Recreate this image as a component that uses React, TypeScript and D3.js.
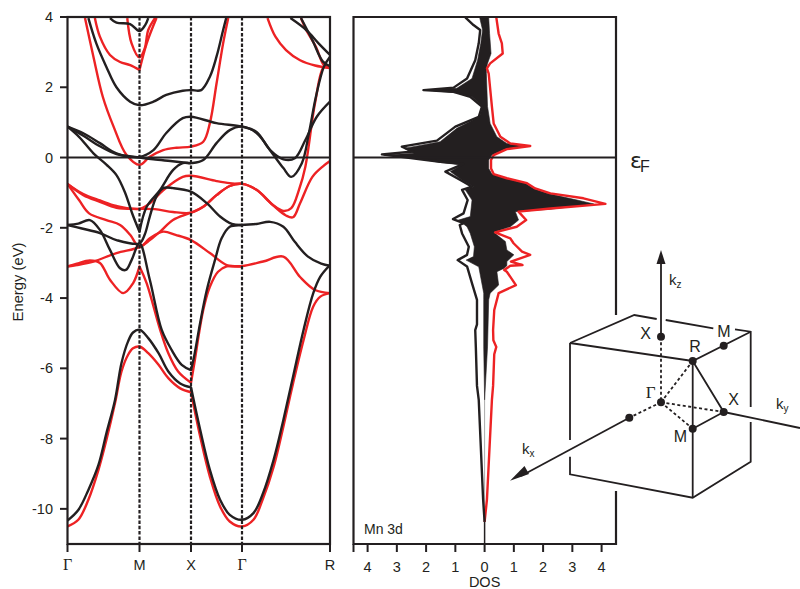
import React from 'react';
import * as d3 from 'd3';

type P = [number, number];
const INK = '#231f20';
const RED = '#ed2224';

// ---- band structure: [k, E], with k: Γ=0, M=1, X=2, Γ=3, R=4 (a repeated point is a cusp)
const kTicks = [0, 1, 2, 3, 4];
const kLabels = ['Γ', 'M', 'X', 'Γ', 'R'];
const energyTicks = [4, 2, 0, -2, -4, -6, -8, -10];

const redLow: P[] = [[0,-10.5],[.15,-10.31],[.29,-9.74],[.43,-8.89],[.54,-8.04],[.66,-6.99],[.75,-6.09],[.84,-5.62],[.91,-5.43],[1,-5.38],[1.17,-5.57],[1.37,-5.9],[1.56,-6.28],[1.79,-6.57],[2,-6.68],[2,-6.68],[2.18,-7.94],[2.37,-9.08],[2.57,-9.93],[2.76,-10.36],[3,-10.5],[3.13,-10.31],[3.24,-9.7],[3.36,-8.8],[3.47,-7.66],[3.58,-6.43],[3.7,-5.19],[3.81,-4.24],[3.89,-3.96],[4,-3.86]];
const redA: P[] = [[0,-3.1],[.13,-3.02],[.31,-2.93],[.45,-3.0],[.59,-3.48],[.775,-3.86],[.91,-3.58],[1,-3.1],[1,-3.1],[1.14,-3.58],[1.4,-4.9],[1.56,-5.57],[1.75,-6.09],[2,-6.41],[2,-6.41],[2.06,-5.9],[2.24,-4.34],[2.37,-3.68],[2.53,-3.25],[2.7,-3.1],[3,-3.09],[3.24,-2.96],[3.47,-2.82],[3.66,-3.4],[3.83,-3.77],[4,-3.86]];
const redB: P[] = [[0,-3.1],[.13,-3.06],[.36,-2.96],[.68,-2.72],[1,-2.55],[1.2,-2.35],[1.4,-2.11],[1.65,-1.78],[2,-1.57],[2.24,-1.4],[2.5,-1.07],[2.76,-.81],[3,-.75],[3.165,-.92],[3.35,-1.35],[3.5,-1.65],[3.58,-1.7],[3.66,-1.3],[3.8,-.55],[3.92,-.25],[4,-.1]];
const redC: P[] = [[0,-.75],[.16,-1.21],[.3,-1.59],[.54,-1.78],[.73,-1.92],[.87,-2.2],[1,-2.55],[1.2,-2.3],[1.46,-2.11],[1.7,-2.2],[2,-2.35],[2.37,-2.72],[2.7,-3.06],[3,-3.1]];
const redD: P[] = [[0,-.75],[.22,-1.07],[.45,-1.26],[.68,-1.43],[1,-1.46],[1.3,-1.47],[1.65,-1.55],[2,-1.57],[2.24,-1.4],[2.5,-1.07],[2.76,-.81],[3,-.75],[3.165,-.92],[3.35,-1.35],[3.47,-1.52],[3.56,-1.44],[3.65,-.9],[3.72,-.26],[3.83,1.55],[3.93,2.58],[4,2.6]];
const redE: P[] = [[0,-.75],[.22,-1.04],[.45,-1.22],[.68,-1.38],[1,-1.46],[1.2,-1.3],[1.46,-.93],[1.84,-.55],[2,-.52],[2.5,-.67],[2.76,-.73],[3,-.75]];
const redF: P[] = [[.243,3.97],[.36,2.87],[.49,1.73],[.64,.88],[.82,.07],[1,-.21],[1.2,.02],[1.46,.21],[1.72,.28],[2,.31],[2.24,.45],[2.37,.98],[2.5,2.1],[2.63,3.25],[2.73,3.97]];
const redG: P[] = [[.38,3.97],[.45,3.44],[.59,2.92],[.73,2.72],[.87,2.63],[1,2.49],[1,2.49],[1.14,3.25],[1.33,3.97]];
const redH: P[] = [[.83,3.97],[.89,3.25],[1,2.85],[1.1,3.1],[1.17,3.63],[1.3,3.97]];
const redI: P[] = [[3.29,3.97],[3.38,3.44],[3.5,3.06],[3.66,2.77],[3.83,2.62],[4,2.55]];
const redJ: P[] = [[3.67,3.97],[3.73,3.63],[3.84,3.15],[3.93,2.63],[4,2.55]];

const blackLow: P[] = [[0,-10.33],[.15,-10.03],[.29,-9.46],[.43,-8.75],[.54,-7.85],[.66,-6.9],[.75,-5.85],[.84,-5.24],[.91,-4.98],[1,-4.9],[1.17,-5.14],[1.37,-5.57],[1.56,-6.09],[1.79,-6.43],[2,-6.54],[2,-6.54],[2.18,-7.75],[2.37,-8.89],[2.57,-9.74],[2.76,-10.17],[3,-10.31],[3.13,-10.12],[3.24,-9.55],[3.36,-8.6],[3.47,-7.47],[3.58,-6.24],[3.7,-4.9],[3.81,-3.86],[3.89,-3.39],[4,-3.06]];
const blackA: P[] = [[0,-1.92],[.15,-1.88],[.31,-1.78],[.45,-2.06],[.59,-2.63],[.73,-3.15],[.81,-3.2],[.89,-2.92],[1,-2.44],[1.2,-3.48],[1.43,-4.9],[1.625,-5.48],[1.82,-5.9],[2,-6.05],[2,-6.05],[2.06,-5.67],[2.18,-4.7],[2.31,-3.77],[2.47,-2.92],[2.6,-2.3],[2.76,-1.97],[3,-1.92],[3.165,-1.89],[3.32,-1.83],[3.47,-1.97],[3.6,-2.4],[3.75,-2.82],[3.9,-3.02],[4,-3.08]];
const blackB: P[] = [[0,-1.92],[.2,-2.02],[.45,-2.15],[.68,-2.35],[1,-2.44],[1.1,-2.2],[1.2,-1.68],[1.33,-1.11],[1.46,-.87],[1.65,-.87],[2,-.97],[2.31,-1.3],[2.57,-1.68],[2.8,-1.89],[3,-1.92]];
const blackC: P[] = [[0,.88],[.16,.59],[.36,.12],[.54,-.2],[.68,-.5],[.8,-1.0],[.9,-1.6],[1,-2.11],[1,-2.11],[1.14,-1.4],[1.4,-.92],[1.65,-.36],[1.84,-.16],[2,-.16],[2.24,-.07],[2.5,.41],[2.76,.78],[3,.88],[3.165,.7],[3.35,.1],[3.47,-.3],[3.56,-.55],[3.68,-.16],[3.76,.69],[3.84,1.73],[3.93,2.58],[4,2.87]];
const blackD: P[] = [[0,.88],[.22,.69],[.45,.41],[.68,.12],[1,.02],[1.27,.21],[1.52,.7],[1.84,1.12],[2,1.16],[2.5,.98],[3,.88],[3.165,.73],[3.32,.21],[3.47,-.05],[3.6,-.02],[3.72,.5],[3.85,1.16],[4,1.59]];
const blackE: P[] = [[0,.88],[.22,.62],[.45,.32],[.68,.1],[1,0],[1.27,-.05],[1.6,-.1],[2,-.16]];
const blackF: P[] = [[.29,3.97],[.4,3.25],[.54,2.58],[.68,2.0],[.87,1.59],[1,1.49],[1.27,1.59],[1.52,1.78],[1.84,1.9],[2,1.92],[2.2,1.92],[2.37,2.3],[2.5,2.87],[2.63,3.63],[2.69,3.97]];
const blackG: P[] = [[.59,3.97],[.68,3.84],[.87,3.8],[1,3.6],[1.11,3.77],[1.17,3.97]];
const blackH: P[] = [[3.55,3.97],[3.73,3.63],[3.87,3.25],[4,2.92]];
const blackI: P[] = [[3.67,3.97],[3.8,3.34],[3.92,2.73],[4,2.6]];

const redBands = [redLow, redA, redB, redC, redD, redE, redF, redG, redH, redI, redJ];
const blackBands = [blackLow, blackA, blackB, blackC, blackD, blackE, blackF, blackG, blackH, blackI];

// ---- density of states: [E, DOS]
const dosTicks = [-4, -3, -2, -1, 0, 1, 2, 3, 4];
const dosUp: P[] = [[-10.37,0],[-9.74,.08],[-6.9,.25],[-6.5,.29],[-5.6,.33],[-5.39,.4],[-5.2,.3],[-4.91,.29],[-4.34,.33],[-3.86,.48],[-3.63,1.07],[-3.25,.76],[-3.2,.67],[-3.08,.88],[-3.06,1.3],[-2.96,.9],[-2.77,1.56],[-2.68,1.28],[-2.44,.99],[-2.3,.88],[-2.13,.36],[-1.97,1.1],[-1.78,1.42],[-1.54,1.16],[-1.45,2.25],[-1.32,4.13],[-1.16,3.38],[-1.02,2.25],[-.88,1.73],[-.73,1.45],[-.59,.76],[-.47,.31],[-.31,.22],[-.07,.22],[.07,.31],[.24,.76],[.33,1.56],[.4,.88],[.59,.54],[.97,.31],[1.45,.25],[2.39,.14],[2.54,.08],[2.68,.19],[2.96,.62],[3.25,.59],[3.53,.48],[3.99,.4]];
const dosDown: P[] = [[-10.37,0],[-9.74,-.05],[-6.9,-.2],[-6.5,-.26],[-5.39,-.3],[-4.91,-.32],[-4.75,-.26],[-4.05,-.26],[-3.58,-.43],[-3.1,-.6],[-2.92,-.92],[-2.77,-.6],[-2.54,-.54],[-2.16,-.77],[-1.92,-.85],[-1.87,-.72],[-1.75,-1.08],[-1.59,-.72],[-1.21,-.58],[-.92,-.77],[-.83,-.43],[-.64,-.83],[-.4,-1.34],[-.18,-.72],[-.12,-1.52],[-.05,-2.2],[.09,-3.51],[.17,-2.43],[.31,-2.83],[.48,-1.63],[.88,-1.0],[1.16,-.2],[1.45,-.09],[1.73,-.49],[1.87,-1.06],[1.92,-2.09],[1.99,-1.06],[2.25,-.6],[2.77,-.32],[3.25,-.2],[3.63,-.15],[3.77,-.38],[3.99,-.66]];
const mn3dLeft: P[] = [[-6.9,0],[-5.39,-.03],[-4.05,-.03],[-3.86,-.03],[-3.11,-.2],[-2.92,-.63],[-2.82,-.38],[-2.54,-.35],[-2.16,-.49],[-1.97,-.6],[-1.78,-.89],[-1.68,-.49],[-1.21,-.43],[-.92,-.66],[-.83,-.38],[-.64,-.78],[-.4,-1.17],[-.21,-.78],[-.14,-1.52],[-.05,-2.14],[.07,-3.45],[.12,-2.42],[.26,-2.76],[.45,-1.52],[.83,-.95],[1.16,-.17],[1.45,-.07],[1.73,-.43],[1.84,-.95],[1.92,-2.03],[1.97,-.95],[2.25,-.43],[2.77,-.24],[3.25,-.13],[3.63,-.07],[3.99,-.17]];
const mn3dRight: P[] = [[-6.9,0],[-5.39,.1],[-4.05,.14],[-3.86,.19],[-3.63,.48],[-3.25,.42],[-3.15,.67],[-3.08,.76],[-2.96,.76],[-2.77,1.0],[-2.63,.76],[-2.39,.71],[-2.13,.31],[-1.97,.88],[-1.78,1.16],[-1.54,1.05],[-1.47,2.25],[-1.32,3.73],[-1.21,3.16],[-1.02,2.13],[-.88,1.68],[-.73,1.39],[-.59,.71],[-.47,.25],[-.31,.14],[-.07,.14],[.07,.25],[.24,.71],[.33,1.33],[.4,.76],[.59,.42],[.97,.19],[1.45,.1],[2.39,.06],[2.54,.06],[2.68,.1],[2.96,.22],[3.53,.17],[3.99,.14]];

// ---- Brillouin-zone sketch, in sketch units
const bzSolid: P[][] = [
  [[70,103],[192.7,121],[250.7,91.7]],
  [[70,103],[134.3,75],[156.7,79]],
  [[165.7,80],[213.3,88.3]],
  [[235,89.3],[250.7,91.7],[250.7,167]],
  [[250.7,182],[250.7,221.7],[192.7,257.7],[70,234.3],[70,216.7]],
  [[70,200],[70,103]],
  [[192.7,121],[192.7,257.7]],
  [[192.7,121],[223.7,172],[192.7,188.7]],
];
const bzDashed: P[][] = [
  [[161,96.7],[161,162.3]],
  [[161,162.3],[192.7,121]],
  [[161,162.3],[223.7,172]],
  [[161,162.3],[192.7,188.7]],
  [[161,162.3],[129.3,177.7]],
];
const bzAxes: P[][] = [
  [[161,96.7],[161,16]],
  [[129.3,177.7],[21,236]],
  [[223.7,172],[300,188]],
];
const bzHeads: P[][] = [
  [[161,10],[156.5,24],[165.5,24]],
  [[10,240.7],[24.5,226],[29,234]],
];
const bzDots: P[] = [[161,162.3],[161,96.7],[192.7,121],[223.7,105.7],[223.7,172],[192.7,188.7],[129.3,177.7]];
const bzLabels: { t: string; p: P }[] = [
  { t: 'X', p: [145.7, 99] },
  { t: 'R', p: [195, 112] },
  { t: 'M', p: [224, 97] },
  { t: 'Γ', p: [150.7, 158] },
  { t: 'X', p: [233.5, 165] },
  { t: 'M', p: [180.5, 202] },
];
const bzKLabels: { t: string; s: string; p: P }[] = [
  { t: 'k', s: 'z', p: [169, 45] },
  { t: 'k', s: 'x', p: [22, 214] },
  { t: 'k', s: 'y', p: [276, 169] },
];

const bandPlot = { l: 67.5, r: 330, t: 17, b: 544 };
const dosPlot = { l: 353.5, r: 616, t: 17, b: 544, gapT: 315, gapB: 491 };
const FONT = '"Liberation Sans", Arial, sans-serif';
const SERIF = '"Liberation Serif", serif';

export default function App() {
  const kx = d3.scaleLinear().domain(kTicks).range([67.5, 139.5, 191, 242, 330]);
  const ey = d3.scaleLinear().domain([4, -11]).range([bandPlot.t, bandPlot.b]);
  const dx = d3.scaleLinear().domain([-4, 4]).range([367.6, 601.6]);
  const sx = d3.scaleLinear().domain([0, 300]).range([500, 800]);
  const sy = d3.scaleLinear().domain([0, 270]).range([240, 510]);

  const band = d3.line<P>().x(d => kx(d[0])).y(d => ey(d[1])).curve(d3.curveCatmullRom.alpha(0.5));
  const dosLine = d3.line<P>().x(d => dx(d[1])).y(d => ey(d[0]));
  const fill = dosLine([...mn3dLeft, ...[...mn3dRight].reverse()]) + 'Z';
  const sk = d3.line<P>().x(d => sx(d[0])).y(d => sy(d[1]));

  return (
    <svg width={800} height={589} style={{ position: 'absolute', left: 0, top: 0, background: '#fff' }} fontFamily={FONT} fill={INK}>
      <defs>
        <clipPath id="bands"><rect x={bandPlot.l} y={bandPlot.t} width={bandPlot.r - bandPlot.l} height={bandPlot.b - bandPlot.t} /></clipPath>
      </defs>
      <g clipPath="url(#bands)" fill="none" strokeWidth={2.4} strokeLinejoin="round">
        {redBands.map((b, i) => <path key={i} d={band(b)!} stroke={RED} />)}
        {blackBands.map((b, i) => <path key={i} d={band(b)!} stroke={INK} />)}
      </g>
      {kTicks.slice(1, 4).map(k => (
        <line key={k} x1={kx(k)} x2={kx(k)} y1={bandPlot.t} y2={bandPlot.b} stroke={INK} strokeWidth={2.2} strokeDasharray="3.5 1.8" />
      ))}
      <line x1={bandPlot.l} x2={bandPlot.r} y1={ey(0)} y2={ey(0)} stroke={INK} strokeWidth={2} />
      <rect x={bandPlot.l} y={bandPlot.t} width={bandPlot.r - bandPlot.l} height={bandPlot.b - bandPlot.t} fill="none" stroke={INK} strokeWidth={2.2} />
      {energyTicks.map(e => (
        <g key={e}>
          <line x1={60} x2={bandPlot.l} y1={ey(e)} y2={ey(e)} stroke={INK} strokeWidth={2} />
          <text x={53} y={ey(e) + 5} textAnchor="end" fontSize={14.5}>{e}</text>
        </g>
      ))}
      {kTicks.map((k, i) => (
        <g key={k}>
          <line x1={kx(k)} x2={kx(k)} y1={bandPlot.b} y2={552} stroke={INK} strokeWidth={2} />
          <text x={kx(k)} y={570} textAnchor="middle" fontSize={kLabels[i] === 'Γ' ? 16 : 14.5} fontFamily={kLabels[i] === 'Γ' ? SERIF : FONT}>{kLabels[i]}</text>
        </g>
      ))}
      <text transform="translate(23,282) rotate(-90)" textAnchor="middle" fontSize={14.8}>Energy (eV)</text>

      {/* DOS */}
      <path d={fill} fill={INK} stroke={INK} strokeWidth={0.6} />
      <line x1={dx(0)} x2={dx(0)} y1={ey(-6.9)} y2={ey(-10.37)} stroke="#aaa" strokeWidth={1} />
      <line x1={dx(0)} x2={dx(0)} y1={ey(-10.37)} y2={dosPlot.b} stroke={INK} strokeWidth={1.5} />
      <path d={dosLine(dosUp)!} fill="none" stroke={RED} strokeWidth={2.4} strokeLinejoin="round" />
      <path d={dosLine(dosDown)!} fill="none" stroke={INK} strokeWidth={2.4} strokeLinejoin="round" />
      <line x1={dosPlot.l} x2={dosPlot.r} y1={ey(0)} y2={ey(0)} stroke={INK} strokeWidth={2} />
      <path d={`M${dosPlot.r},${dosPlot.gapT}V${dosPlot.t}H${dosPlot.l}V${dosPlot.b}H${dosPlot.r}V${dosPlot.gapB}`} fill="none" stroke={INK} strokeWidth={2.2} />
      <line x1={dosPlot.l} x2={dosPlot.l} y1={dosPlot.b} y2={552} stroke={INK} strokeWidth={2} />
      {dosTicks.map(v => (
        <g key={v}>
          <line x1={dx(v)} x2={dx(v)} y1={dosPlot.b} y2={552} stroke={INK} strokeWidth={2} />
          <text x={dx(v)} y={572} textAnchor="middle" fontSize={14.5}>{Math.abs(v)}</text>
        </g>
      ))}
      <text x={dx(0)} y={586.5} textAnchor="middle" fontSize={14.5}>DOS</text>
      <text x={364} y={534} fontSize={14}>Mn 3d</text>
      <text x={630} y={168} fontSize={22} fontFamily={'"DejaVu Sans", sans-serif'}>ε<tspan fontSize={16} dy={4} dx={-2} fontFamily={FONT}>F</tspan></text>

      {/* Brillouin zone */}
      <g fill="none" stroke={INK} strokeWidth={1.8} strokeLinejoin="miter">
        {bzSolid.map((p, i) => <path key={i} d={sk(p)!} />)}
        {bzAxes.map((p, i) => <path key={i} d={sk(p)!} />)}
        {bzDashed.map((p, i) => <path key={i} d={sk(p)!} strokeDasharray="3 2.5" />)}
      </g>
      {bzHeads.map((p, i) => <path key={i} d={sk(p)! + 'Z'} fill={INK} />)}
      {bzDots.map((p, i) => <circle key={i} cx={sx(p[0])} cy={sy(p[1])} r={4} fill={INK} />)}
      {bzLabels.map((l, i) => (
        <text key={i} x={sx(l.p[0])} y={sy(l.p[1])} textAnchor="middle" fontSize={l.t === 'Γ' ? 17 : 16} fontFamily={l.t === 'Γ' ? SERIF : FONT}>{l.t}</text>
      ))}
      {bzKLabels.map((l, i) => (
        <text key={i} x={sx(l.p[0])} y={sy(l.p[1])} fontSize={15}>{l.t}<tspan fontSize={10} dy={3}>{l.s}</tspan></text>
      ))}
    </svg>
  );
}
